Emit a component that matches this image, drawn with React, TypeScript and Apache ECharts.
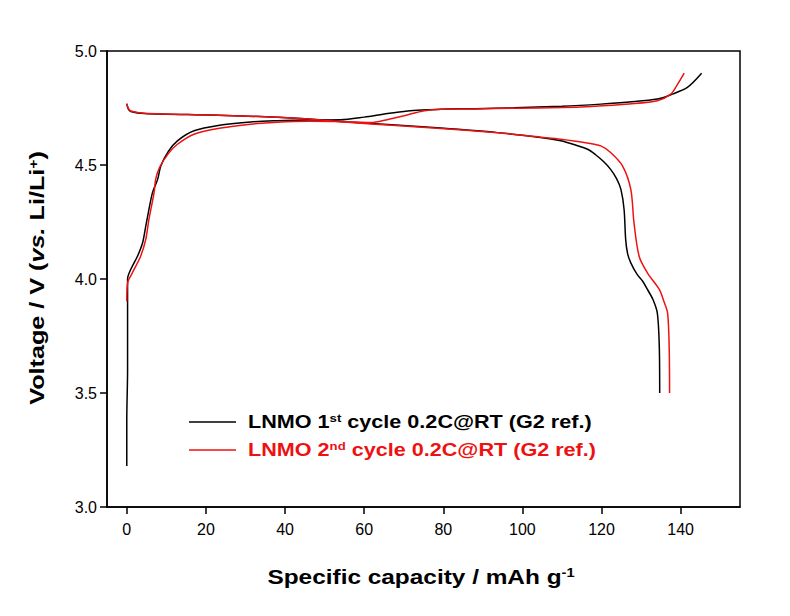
import React, { useEffect, useRef } from "react";
import * as echarts from "echarts";

// 1st cycle (black)
const charge1: [number, number][] = [
  [0, 3.18], [0, 3.38], [0.2, 3.6], [0.2, 4.0], [1.0, 4.042], [2.7, 4.1], [4.0, 4.159],
  [4.8, 4.232], [5.6, 4.305], [6.5, 4.379], [7.8, 4.437], [8.6, 4.496], [10.5, 4.56],
  [12.8, 4.606], [17, 4.65], [23.8, 4.675], [31.3, 4.689], [38, 4.694], [46, 4.697],
  [54, 4.698], [60, 4.71], [65.9, 4.726], [71, 4.737], [76, 4.742], [79.4, 4.745],
  [88, 4.747], [97.9, 4.751], [110, 4.758], [119.8, 4.767], [127, 4.776], [134.1, 4.789],
  [137.9, 4.811], [141.7, 4.84], [145.3, 4.902],
];
const discharge1: [number, number][] = [
  [0, 4.767], [0.4, 4.745], [1, 4.735], [4.4, 4.726], [21.2, 4.719], [36.4, 4.711],
  [45, 4.703], [55.8, 4.689], [68, 4.675], [79.4, 4.662], [93.7, 4.642], [104.6, 4.621],
  [109.7, 4.606], [113, 4.59], [116.5, 4.569], [118.5, 4.545], [120.5, 4.515],
  [122.3, 4.481], [123.8, 4.44], [124.9, 4.393], [125.7, 4.305], [126.1, 4.174],
  [126.6, 4.11], [127.4, 4.071], [129, 4.02], [130.4, 3.99], [131.6, 3.954], [133, 3.91],
  [134.1, 3.851], [134.6, 3.705], [134.7, 3.5],
];
// 2nd cycle (red)
const charge2: [number, number][] = [
  [0, 3.902], [0.2, 3.983], [1.4, 4.027], [3.5, 4.1], [4.8, 4.174], [5.6, 4.262],
  [6.9, 4.379], [7.3, 4.437], [8.3, 4.49], [10.5, 4.55], [12.8, 4.591], [17, 4.635],
  [23.8, 4.662], [31.3, 4.679], [38, 4.688], [46, 4.692], [55, 4.69], [61.7, 4.686],
  [66, 4.7], [70.1, 4.716], [75.2, 4.738], [79.4, 4.745], [88, 4.746], [97.9, 4.749],
  [110, 4.752], [117.3, 4.757], [127, 4.768], [134.1, 4.782], [137.5, 4.811],
  [139, 4.848], [140.9, 4.903],
];
const discharge2: [number, number][] = [
  [0, 4.77], [0.4, 4.748], [1, 4.737], [4.4, 4.727], [21.2, 4.719], [36.4, 4.711],
  [45, 4.703], [55.8, 4.688], [68, 4.673], [79.4, 4.66], [93.7, 4.641], [104.6, 4.622],
  [109.7, 4.613], [115.6, 4.599], [119.8, 4.584], [122.3, 4.555], [125.3, 4.496],
  [127.4, 4.393], [128.2, 4.247], [129.5, 4.1], [131.6, 4.027], [134.6, 3.954],
  [135.8, 3.9], [136.7, 3.851], [137.1, 3.7], [137.2, 3.5],
];

const xTicks = [0, 20, 40, 60, 80, 100, 120, 140];
const yTicks = [3.0, 3.5, 4.0, 4.5, 5.0];
const legendNames = ["LNMO 1st cycle 0.2C@RT (G2 ref.)", "LNMO 2nd cycle 0.2C@RT (G2 ref.)"];
const colors = ["#000000", "#ee1111"];

const FONT = "Liberation Sans, Arial, sans-serif";

export default function App() {
  const ref = useRef<HTMLDivElement>(null);
  useEffect(() => {
    if (!ref.current) return;
    const chart = echarts.init(ref.current, null, { renderer: "svg" });
    const mkSeries = (name: string, data: [number, number][], color: string) => ({
      name,
      type: "line",
      data,
      showSymbol: false,
      symbol: "none",
      smooth: 0.3,
      lineStyle: { color, width: 1.5 },
      itemStyle: { color },
      z: 3,
    });
    const base = {
      fontFamily: FONT,
      fontWeight: "bold",
      fontSize: 18,
    };
    const legendRich = (color: string) => ({
      b: { ...base, fill: color, color },
      sup: { ...base, fontSize: 11, verticalAlign: "top", fill: color, color },
    });
    chart.setOption({
      animation: false,
      backgroundColor: "#ffffff",
      grid: {
        left: 107,
        right: 50,
        top: 51,
        bottom: 109,
        show: true,
        borderColor: "#000",
        borderWidth: 1.5,
        backgroundColor: "transparent",
      },
      xAxis: {
        type: "value",
        min: -5,
        max: 155,
        axisLine: { show: true, onZero: false, lineStyle: { color: "#000", width: 1.5 } },
        axisTick: {
          show: true,
          inside: false,
          length: 7,
          customValues: xTicks,
          lineStyle: { color: "#000", width: 1.5 },
        },
        axisLabel: {
          customValues: xTicks,
          color: "#000",
          fontFamily: FONT,
          fontSize: 16,
          margin: 14,
        },
        splitLine: { show: false },
      },
      yAxis: {
        type: "value",
        min: 3,
        max: 5,
        interval: 0.5,
        axisLine: { show: true, onZero: false, lineStyle: { color: "#000", width: 1.5 } },
        axisTick: { show: true, inside: false, length: 7, lineStyle: { color: "#000", width: 1.5 } },
        axisLabel: {
          color: "#000",
          fontFamily: FONT,
          fontSize: 16,
          margin: 10,
          formatter: (v: number) => (yTicks.includes(v) ? v.toFixed(1) : ""),
        },
        splitLine: { show: false },
      },
      series: [
        mkSeries("1st charge", charge1, colors[0]),
        mkSeries("1st discharge", discharge1, colors[0]),
        mkSeries("2nd charge", charge2, colors[1]),
        mkSeries("2nd discharge", discharge2, colors[1]),
      ],
      graphic: [
        { type: "line", shape: { x1: 189, y1: 422, x2: 236, y2: 422 }, style: { stroke: colors[0], lineWidth: 1.5 } },
        { type: "line", shape: { x1: 189, y1: 450, x2: 236, y2: 450 }, style: { stroke: colors[1], lineWidth: 1.5 } },
        {
          type: "text",
          x: 248,
          y: 422,
          scaleX: 1.2,
          style: {
            text: "{b|LNMO 1}{sup|st}{b| cycle 0.2C@RT (G2 ref.)}",
            rich: legendRich(colors[0]),
            verticalAlign: "middle",
            align: "left",
            fill: colors[0],
          },
        },
        {
          type: "text",
          x: 248,
          y: 450,
          scaleX: 1.2,
          style: {
            text: "{b|LNMO 2}{sup|nd}{b| cycle 0.2C@RT (G2 ref.)}",
            rich: legendRich(colors[1]),
            verticalAlign: "middle",
            align: "left",
            fill: colors[1],
          },
        },
        {
          type: "text",
          x: 421,
          y: 577,
          scaleX: 1.22,
          style: {
            text: "{b|Specific capacity / mAh g}{sup|-1}",
            rich: {
              b: { fontFamily: FONT, fontWeight: "bold", fontSize: 20, fill: "#000" },
              sup: { fontFamily: FONT, fontWeight: "bold", fontSize: 12, verticalAlign: "top", fill: "#000" },
            },
            align: "center",
            verticalAlign: "middle",
          },
        },
        {
          type: "text",
          x: 37,
          y: 278,
          rotation: Math.PI / 2,
          scaleX: 1.2,
          style: {
            text: "{b|Voltage / V (}{i|vs.}{b| Li/Li}{sup|+}{b|)}",
            rich: {
              b: { fontFamily: FONT, fontWeight: "bold", fontSize: 21, fill: "#000" },
              i: { fontFamily: FONT, fontWeight: "bold", fontStyle: "italic", fontSize: 21, fill: "#000" },
              sup: { fontFamily: FONT, fontWeight: "bold", fontSize: 13, verticalAlign: "top", fill: "#000" },
            },
            align: "center",
            verticalAlign: "middle",
          },
        },
      ],
    });
    return () => chart.dispose();
  }, []);
  return (
    <div
      ref={ref}
      style={{ position: "absolute", left: 0, top: 0, width: 790, height: 616, background: "#fff" }}
    />
  );
}
